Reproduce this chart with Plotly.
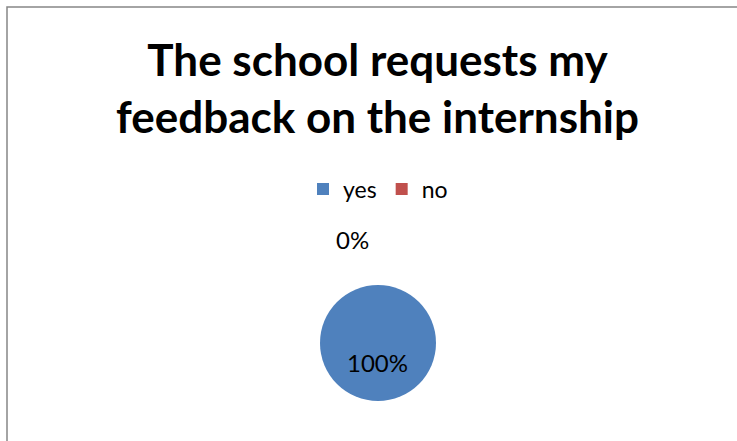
import plotly.graph_objects as go

labels = ["yes", "no"]
values = [100, 0]
colors = ["#4F81BD", "#C0504D"]
title_text = "The school requests my<br>feedback on the internship"

total = sum(values)
pcts = [f"{round(v / total * 100)}%" for v in values]

W, H = 737, 441
fig = go.Figure()
fig.add_trace(go.Pie(
    labels=labels,
    values=values,
    marker=dict(colors=colors, line=dict(width=0)),
    textinfo="none",
    hoverinfo="label+percent",
    sort=False,
    direction="clockwise",
    rotation=0,
    domain=dict(x=[320 / W, 436 / W], y=[1 - 401 / H, 1 - 285 / H]),
    showlegend=True,
))

annotations = [
    dict(text=pcts[0], x=377 / W, y=1 - 379 / H, xref="paper", yref="paper",
         showarrow=False, font=dict(family="Lato", size=24, color="#000000")),
    dict(text=pcts[1], x=352 / W, y=1 - 239 / H, xref="paper", yref="paper",
         showarrow=False, font=dict(family="Lato", size=24, color="#000000")),
]

fig.update_layout(
    width=W, height=H,
    margin=dict(l=0, r=0, t=0, b=0),
    paper_bgcolor="#FFFFFF",
    plot_bgcolor="#FFFFFF",
    title=dict(text=title_text, x=377.5 / W, xanchor="center",
               y=1 - 76 / H, yanchor="middle",
               font=dict(family="Lato", size=44, color="#000000", weight="bold")),
    legend=dict(orientation="h", x=378 / W, xanchor="center",
                y=1 - 189 / H, yanchor="middle",
                font=dict(family="Lato", size=23, color="#000000"),
                itemwidth=30, bgcolor="rgba(0,0,0,0)"),
    annotations=annotations,
    shapes=[dict(type="rect", xref="paper", yref="paper",
                 x0=7 / W, x1=1.1, y0=-0.1, y1=1 - 7 / H,
                 line=dict(color="#868686", width=1.5))],
)

fig.write_html("out.html",
               config={"displayModeBar": False},
               post_script="document.body.style.margin='0';document.body.style.overflow='hidden';")
